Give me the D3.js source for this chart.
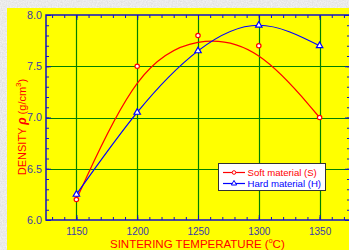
<!DOCTYPE html>
<html><head><meta charset="utf-8">
<script src="https://cdn.jsdelivr.net/npm/d3@7"></script>
<style>body{margin:0;padding:0;overflow:hidden;background:#d9d9d9}svg{display:block}</style>
</head><body>
<svg id="c" width="349" height="250"></svg>
<script>
const temperatures = [1150, 1200, 1250, 1300, 1350];
const softDensity = [6.2, 7.5, 7.8, 7.7, 7.0];
const hardDensity = [6.25, 7.05, 7.65, 7.9, 7.7];
const xTicks = [1150, 1200, 1250, 1300, 1350];
const yTicks = [6.0, 6.5, 7.0, 7.5, 8.0];
const seriesNames = ["Soft material (S)", "Hard material (H)"];

const svg = d3.select("#c");
const W = 349, H = 250;

// textured grey background
const defs = svg.append("defs");
const f = defs.append("filter").attr("id", "grain").attr("x", 0).attr("y", 0).attr("width", "100%").attr("height", "100%");
f.append("feTurbulence").attr("type", "fractalNoise").attr("baseFrequency", 0.8).attr("numOctaves", 2).attr("seed", 3).attr("result", "n");
f.append("feColorMatrix").attr("type", "matrix").attr("in", "n")
  .attr("values", "0.25 0 0 0 0.7  0.25 0 0 0 0.7  0.25 0 0 0 0.7  0 0 0 0 1");
svg.append("rect").attr("width", W).attr("height", H).attr("fill", "#d6d6d6").attr("filter", "url(#grain)");

// yellow panel
svg.append("rect").attr("x", 7).attr("y", 8).attr("width", W - 7).attr("height", H - 8).attr("fill", "#ffff00");

const x = d3.scaleLinear().domain([1125, 1375]).range([46, 350]);
const y = d3.scaleLinear().domain([6, 8]).range([220, 15]);

const axisColor = "#1010c8";
const gridColor = "#008000";
const labelColor = "#3a3aa8";
const font = "Liberation Sans, Arial, sans-serif";

// grid
svg.append("g").selectAll("line").data(xTicks).join("line")
  .attr("x1", d => Math.round(x(d)) + 0.5).attr("x2", d => Math.round(x(d)) + 0.5)
  .attr("y1", y(8)).attr("y2", y(6)).attr("stroke", gridColor).attr("stroke-width", 1.2);
svg.append("g").selectAll("line").data(yTicks.filter(d => d > 6 && d < 8)).join("line")
  .attr("y1", d => Math.round(y(d)) + 0.5).attr("y2", d => Math.round(y(d)) + 0.5)
  .attr("x1", x(1125)).attr("x2", x(1375)).attr("stroke", gridColor).attr("stroke-width", 1.2);

// axes: ticks inward on all sides
function styleAxis(g) {
  g.select(".domain").remove();
  g.selectAll("line").attr("stroke", axisColor).attr("stroke-width", 1);
}
const xMinor = d3.range(1130, 1375, 10);
const yMinor = d3.range(6.1, 8.0, 0.1);
// bottom
svg.append("g").attr("transform", `translate(0,${y(6)})`)
  .call(d3.axisBottom(x).tickValues(xMinor).tickSize(-3).tickFormat("")).call(styleAxis);
const gb2 = svg.append("g").attr("transform", `translate(0,${y(6)})`);
gb2.call(d3.axisBottom(x).tickValues(xTicks).tickSize(-5).tickFormat(d3.format("d"))).call(styleAxis);
gb2.selectAll("text").attr("fill", labelColor).attr("font-family", font).attr("font-size", 10)
  .attr("y", 14.5).attr("dy", 0);
// top
svg.append("g").attr("transform", `translate(0,${y(8)})`)
  .call(d3.axisTop(x).tickValues(xMinor).tickSize(-3).tickFormat("")).call(styleAxis);
svg.append("g").attr("transform", `translate(0,${y(8)})`)
  .call(d3.axisTop(x).tickValues(xTicks).tickSize(-5).tickFormat("")).call(styleAxis);
// left
svg.append("g").attr("transform", `translate(${x(1125)},0)`)
  .call(d3.axisLeft(y).tickValues(yMinor).tickSize(-3).tickFormat("")).call(styleAxis);
const gl = svg.append("g").attr("transform", `translate(${x(1125)},0)`);
gl.call(d3.axisLeft(y).tickValues(yTicks).tickSize(-5).tickFormat(d3.format(".1f"))).call(styleAxis);
gl.selectAll("text").attr("fill", labelColor).attr("font-family", font).attr("font-size", 10.8).attr("x", -4);
// right
svg.append("g").attr("transform", `translate(${x(1375)},0)`)
  .call(d3.axisRight(y).tickValues(yMinor).tickSize(-3).tickFormat("")).call(styleAxis);
svg.append("g").attr("transform", `translate(${x(1375)},0)`)
  .call(d3.axisRight(y).tickValues(yTicks).tickSize(-5).tickFormat("")).call(styleAxis);

// frame
svg.append("rect").attr("x", x(1125)).attr("y", y(8)).attr("width", x(1375) - x(1125)).attr("height", y(6) - y(8))
  .attr("fill", "none").attr("stroke", axisColor).attr("stroke-width", 1.5);

// curves
const soft = temperatures.map((t, i) => [t, softDensity[i]]);
const hard = temperatures.map((t, i) => [t, hardDensity[i]]);
svg.append("path").datum(soft)
  .attr("d", d3.line().x(d => x(d[0])).y(d => y(d[1])).curve(d3.curveBasis))
  .attr("fill", "none").attr("stroke", "#ff0000").attr("stroke-width", 1.2);
svg.append("path").datum(hard)
  .attr("d", d3.line().x(d => x(d[0])).y(d => y(d[1])).curve(d3.curveNatural))
  .attr("fill", "none").attr("stroke", "#0000ff").attr("stroke-width", 1.2);

const tri = d3.symbol().type(d3.symbolTriangle).size(18);
svg.append("g").selectAll("circle").data(soft).join("circle")
  .attr("cx", d => x(d[0])).attr("cy", d => y(d[1])).attr("r", 2.2)
  .attr("fill", "#ffffff").attr("stroke", "#ff0000").attr("stroke-width", 1.2);
svg.append("g").selectAll("path").data(hard).join("path")
  .attr("transform", d => `translate(${x(d[0])},${y(d[1])})`).attr("d", tri)
  .attr("fill", "#ffffff").attr("stroke", "#0000ff").attr("stroke-width", 1.2);

// legend
const lg = svg.append("g");
lg.append("rect").attr("x", 218.5).attr("y", 163.5).attr("width", 107).attr("height", 27)
  .attr("fill", "#ffffff").attr("stroke", "#333333").attr("stroke-width", 1);
const legendColors = ["#ff0000", "#0000ff"];
seriesNames.forEach((name, i) => {
  const ly = 172.5 + i * 11;
  lg.append("line").attr("x1", 223).attr("x2", 245).attr("y1", ly).attr("y2", ly)
    .attr("stroke", legendColors[i]).attr("stroke-width", 1.2);
  if (i === 0) {
    lg.append("circle").attr("cx", 234).attr("cy", ly).attr("r", 1.8)
      .attr("fill", "#fff").attr("stroke", legendColors[i]).attr("stroke-width", 1);
  } else {
    lg.append("path").attr("transform", `translate(234,${ly})`).attr("d", d3.symbol().type(d3.symbolTriangle).size(12))
      .attr("fill", "#fff").attr("stroke", legendColors[i]).attr("stroke-width", 1);
  }
  lg.append("text").attr("x", 247.5).attr("y", ly + 3.5).text(name)
    .attr("fill", legendColors[i]).attr("font-family", font).attr("font-size", 9.6);
});

// axis titles
const yt = svg.append("text").attr("transform", "translate(26,127) rotate(-90)")
  .attr("text-anchor", "middle").attr("fill", "#ff0000")
  .attr("font-family", font).attr("font-size", 11);
yt.append("tspan").text("DENSITY ");
yt.append("tspan").text("ρ").attr("font-style", "italic").attr("font-weight", "bold").attr("font-size", 12);
yt.append("tspan").text(" (g/cm");
yt.append("tspan").text("3").attr("font-size", 8).attr("dy", -5);
yt.append("tspan").text(")").attr("dy", 5);

const xt = svg.append("text").attr("x", 110).attr("y", 247.5).attr("fill", "#ff0000")
  .attr("font-family", font).attr("font-size", 11.5);
xt.append("tspan").text("SINTERING TEMPERATURE  (");
xt.append("tspan").text("o").attr("font-size", 7).attr("dy", -5);
xt.append("tspan").text("C)").attr("dy", 5);
</script>
</body></html>
